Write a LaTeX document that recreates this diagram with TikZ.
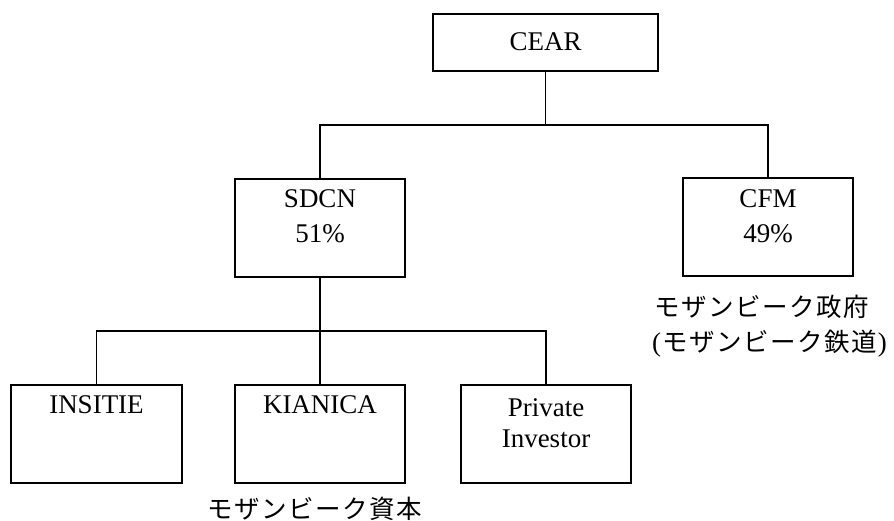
\documentclass[tikz,border=0pt]{standalone}
\usepackage{fontspec}
\setmainfont{Liberation Serif}
\newfontfamily\cjk[LetterSpace=6]{Noto Sans CJK JP}
\begin{document}
\begin{tikzpicture}[x=1pt,y=-1pt,
  box/.style={draw=black,line width=1.4pt,rectangle,inner sep=0pt},
  lbl/.style={font=\fontsize{27}{32}\selectfont,inner sep=0pt,anchor=base},
  jp/.style={font=\fontsize{25.5}{30}\selectfont\cjk,inner sep=0pt},
  conn/.style={line width=1.4pt}]
\useasboundingbox (0,0) rectangle (894,520);
% boxes
\node[box,minimum width=225pt,minimum height=57pt] (cear) at (545.5,42.5) {};
\node[box,minimum width=170pt,minimum height=98pt] (sdcn) at (320,228) {};
\node[box,minimum width=170pt,minimum height=98pt] (cfm) at (768,227) {};
\node[box,minimum width=171pt,minimum height=98pt] (insitie) at (96.5,434) {};
\node[box,minimum width=170pt,minimum height=98pt] (kianica) at (320,434) {};
\node[box,minimum width=170pt,minimum height=98pt] (priv) at (546,434) {};
% texts
\node[lbl] (tcear) at (545.5,50) {CEAR};
\node[lbl] (tsdcn1) at (320,207) {SDCN};
\node[lbl] (tsdcn2) at (320,242) {51\%};
\node[lbl] (tcfm1) at (768,207) {CFM};
\node[lbl] (tcfm2) at (768,242) {49\%};
\node[lbl] (tins) at (96.5,413) {INSITIE};
\node[lbl] (tkia) at (320,413) {KIANICA};
\node[lbl] (tpriv1) at (546,416) {Private};
\node[lbl] (tpriv2) at (546,447) {Investor};
% Japanese labels
\node[jp,anchor=west] (jgov) at (654,307) {モザンビーク政府};
\node[anchor=west,inner sep=0pt] (jrail) at (652,344) {\fontsize{27}{32}\selectfont(\hspace{1pt}{\fontsize{25.5}{30}\selectfont\cjk モザンビーク鉄道}\hspace{1pt})};
\node[jp,anchor=west] (jcap) at (207,509) {モザンビーク資本};
% connectors
\coordinate (j1) at (545.5,125);
\coordinate (j2) at (320,331);
\draw[conn] (cear.south) -- (j1);
\draw[conn] (j1) -| (sdcn.north);
\draw[conn] (j1) -| (cfm.north);
\draw[conn] (sdcn.south) -- (j2);
\draw[conn] (j2) -| (insitie.north);
\draw[conn] (j2) -- (kianica.north);
\draw[conn] (j2) -| (priv.north);
\end{tikzpicture}
\end{document}
